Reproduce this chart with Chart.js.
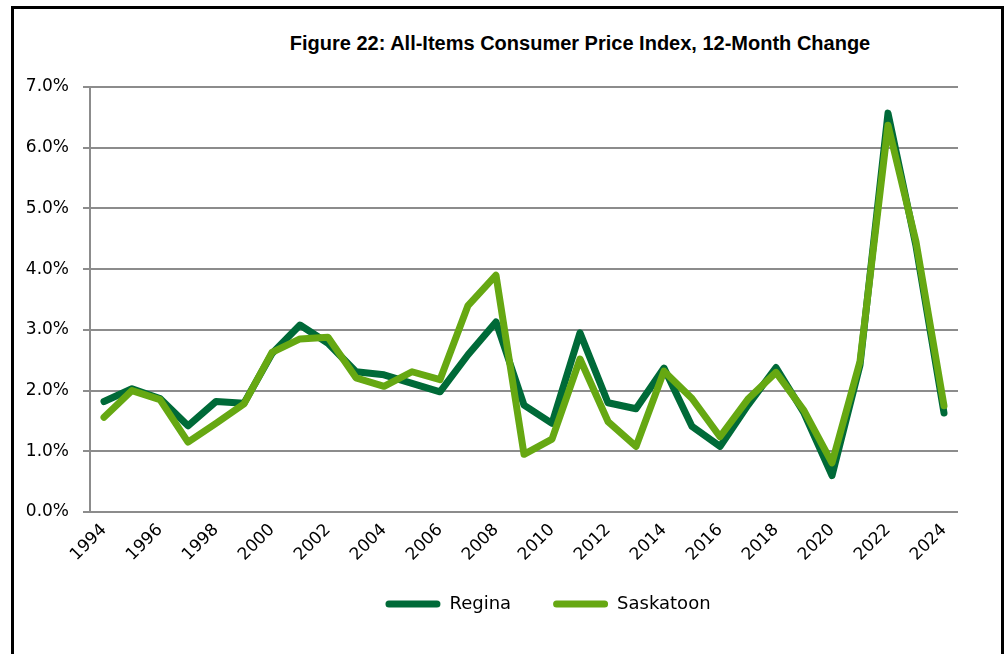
<!DOCTYPE html>
<html>
<head>
<meta charset="utf-8">
<script src="https://cdn.jsdelivr.net/npm/chart.js@4/dist/chart.umd.min.js"></script>
<style>
  html, body { margin: 0; padding: 0; background: #fff; width: 1008px; height: 654px; overflow: hidden; }
  #frame { position: absolute; left: 11px; top: 6px; width: 987px; height: 700px; border: 3px solid #000; border-bottom: none; box-sizing: content-box; }
  #title { position: absolute; left: 280px; top: 32px; width: 600px; text-align: center; font-family: "Liberation Sans", Arial, sans-serif; font-weight: bold; font-size: 20px; color: #000; white-space: nowrap; }
  #wrap { position: absolute; left: 0; top: 0; width: 1008px; height: 654px; }
</style>
</head>
<body>
<div id="frame"></div>
<div id="title">Figure 22: All-Items Consumer Price Index, 12-Month Change</div>
<div id="wrap"><canvas id="c" width="1008" height="654"></canvas></div>
<script>
const years = ['1994','1995','1996','1997','1998','1999','2000','2001','2002','2003','2004','2005','2006','2007','2008','2009','2010','2011','2012','2013','2014','2015','2016','2017','2018','2019','2020','2021','2022','2023','2024'];
const regina = [1.82,2.03,1.87,1.42,1.82,1.79,2.61,3.08,2.78,2.31,2.26,2.12,1.98,2.59,3.13,1.76,1.46,2.95,1.80,1.70,2.37,1.41,1.08,1.76,2.38,1.63,0.60,2.42,6.57,4.38,1.63];
const saskatoon = [1.56,2.00,1.85,1.15,1.46,1.78,2.63,2.85,2.88,2.21,2.07,2.31,2.18,3.40,3.90,0.95,1.20,2.52,1.49,1.08,2.32,1.87,1.24,1.86,2.30,1.67,0.81,2.48,6.37,4.45,1.75];
const shownYears = ['1994','1996','1998','2000','2002','2004','2006','2008','2010','2012','2014','2016','2018','2020','2022','2024'];
const yTicks = [0,1,2,3,4,5,6,7];

const gridColor = '#8c8c8c';
const tickFont = { family: '"DejaVu Sans", sans-serif', size: 17 };
const legendFont = { family: '"DejaVu Sans", sans-serif', size: 18 };

const placeLegend = {
  id: 'placeLegend',
  afterLayout(chart) {
    const lg = chart.legend;
    if (!lg) return;
    const w = lg.right - lg.left;
    const h = lg.bottom - lg.top;
    const centerX = 548;
    const top = 553;
    lg.left = centerX - w / 2;
    lg.right = centerX + w / 2;
    lg.top = top;
    lg.bottom = top + h;
  }
};

new Chart(document.getElementById('c'), {
  type: 'line',
  data: {
    labels: years,
    datasets: [
      { label: 'Regina', data: regina, borderColor: '#006A38', backgroundColor: '#006A38', borderWidth: 7, pointRadius: 0, tension: 0, borderJoinStyle: 'round', borderCapStyle: 'round', order: 1 },
      { label: 'Saskatoon', data: saskatoon, borderColor: '#66A812', backgroundColor: '#66A812', borderWidth: 7, pointRadius: 0, tension: 0, borderJoinStyle: 'round', borderCapStyle: 'round', order: 0 }
    ]
  },
  plugins: [placeLegend],
  options: {
    responsive: false,
    animation: false,
    events: [],
    layout: { padding: { left: 10, top: 87, right: 50, bottom: 12 } },
    plugins: {
      title: { display: false },
      tooltip: { enabled: false },
      legend: {
        position: 'bottom',
        labels: {
          font: legendFont,
          color: '#000',
          boxWidth: 55,
          boxHeight: 7,
          useBorderRadius: true,
          borderRadius: 3.5,
          padding: 42,
          sort: (a, b) => a.datasetIndex - b.datasetIndex,
          generateLabels: (chart) => Chart.defaults.plugins.legend.labels.generateLabels(chart).map(l => Object.assign(l, { lineWidth: 0 }))
        }
      }
    },
    scales: {
      x: {
        offset: true,
        grid: { display: false },
        border: { display: false },
        ticks: {
          autoSkip: false,
          maxRotation: 45,
          minRotation: 45,
          font: tickFont,
          color: '#000',
          padding: 0,
          callback: function (v, i) { const y = years[i]; return shownYears.includes(y) ? y : ''; }
        },
        afterFit: (s) => { s.height = 60; }
      },
      y: {
        min: 0,
        max: 7,
        afterBuildTicks: (s) => { s.ticks = yTicks.map(v => ({ value: v })); },
        grid: { color: gridColor, lineWidth: 2, tickLength: 7, drawTicks: true },
        border: { display: true, color: gridColor, width: 2 },
        ticks: {
          font: tickFont,
          color: '#000',
          padding: 14,
          callback: (v) => v.toFixed(1) + '%'
        },
        afterFit: (s) => { s.width = 80; }
      }
    }
  }
});
</script>
</body>
</html>
